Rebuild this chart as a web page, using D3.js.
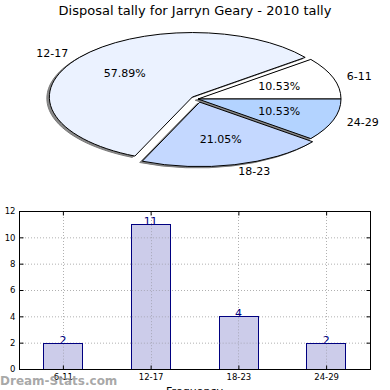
<!DOCTYPE html>
<html>
<head>
<meta charset="utf-8">
<script src="https://cdn.jsdelivr.net/npm/d3@7"></script>
<style>
  body { margin: 0; background: #fff; }
  svg { font-family: "DejaVu Sans", sans-serif; }
</style>
</head>
<body>
<div id="chart"></div>
<script>
// data
var categories = ["6-11", "12-17", "18-23", "24-29"];
var tally = [2, 11, 4, 2];
var explode = [0, 0.05, 0.05, 0];
var sliceColors = ["#ffffff", "#ebf2ff", "#c4d8ff", "#b3d3ff"];
var yTicks = [0, 2, 4, 6, 8, 10, 12];

var W = 390, H = 390;
var svg = d3.select("#chart").append("svg")
  .attr("width", W).attr("height", H);

svg.append("text")
  .attr("x", 195).attr("y", 15)
  .attr("text-anchor", "middle")
  .attr("font-size", 13)
  .text("Disposal tally for Jarryn Geary - 2010 tally");

// ---- pie (matplotlib style: starts at east, counter-clockwise, squashed) ----
var cx = 198, cy = 99, rx = 143, ry = 64.5;
var total = d3.sum(tally);
var slices = [];
var acc = 0;
tally.forEach(function(v, i) {
  var a0 = acc / total * 2 * Math.PI;
  acc += v;
  var a1 = acc / total * 2 * Math.PI;
  var mid = (a0 + a1) / 2;
  slices.push({
    i: i, a0: a0, a1: a1, mid: mid,
    ox: cx + explode[i] * rx * Math.cos(mid),
    oy: cy - explode[i] * ry * Math.sin(mid)
  });
});

// unit circle arc, scaled into an ellipse
var arc = d3.arc().innerRadius(0).outerRadius(1)
  .startAngle(function(d) { return Math.PI / 2 - d.a1; })
  .endAngle(function(d) { return Math.PI / 2 - d.a0; });

function wedge(sel, dx, dy) {
  return sel.append("path")
    .attr("transform", function(d) {
      return "translate(" + (d.ox + dx) + "," + (d.oy + dy) + ") scale(" + rx + "," + ry + ")";
    })
    .attr("d", arc)
    .attr("vector-effect", "non-scaling-stroke");
}

var pie = svg.append("g");
wedge(pie.selectAll(".shadow").data(slices).enter(), -2.5, 1.3)
  .attr("class", "shadow")
  .attr("fill", "#8a8a8a")
  .attr("stroke", "#7a7a7a")
  .attr("stroke-width", 1);

wedge(pie.selectAll(".slice").data(slices).enter(), 0, 0)
  .attr("class", "slice")
  .attr("fill", function(d) { return sliceColors[d.i]; })
  .attr("stroke", "#000")
  .attr("stroke-width", 1);

pie.selectAll(".plabel").data(slices).enter().append("text")
  .attr("x", function(d) { return d.ox + 1.1 * rx * Math.cos(d.mid); })
  .attr("y", function(d) { return d.oy - 1.1 * ry * Math.sin(d.mid); })
  .attr("dy", "0.35em")
  .attr("text-anchor", function(d) { return Math.cos(d.mid) < 0 ? "end" : "start"; })
  .attr("font-size", 11)
  .text(function(d) { return categories[d.i]; });

pie.selectAll(".pct").data(slices).enter().append("text")
  .attr("x", function(d) { return d.ox + 0.6 * rx * Math.cos(d.mid); })
  .attr("y", function(d) { return d.oy - 0.6 * ry * Math.sin(d.mid); })
  .attr("dy", "0.35em")
  .attr("text-anchor", "middle")
  .attr("font-size", 11)
  .text(function(d) { return (tally[d.i] / total * 100).toFixed(2) + "%"; });

// ---- bar chart ----
var plotL = 19, plotR = 370, plotT = 211, plotB = 369;
var x = d3.scaleLinear().domain([-0.5, 3.5]).range([plotL, plotR]);
var y = d3.scaleLinear().domain([0, 12]).range([plotB, plotT]);
var barW = 0.45;

var g = svg.append("g");

// grid
g.selectAll(".hgrid").data(yTicks.slice(1, -1)).enter().append("line")
  .attr("x1", plotL).attr("x2", plotR)
  .attr("y1", function(d) { return y(d) + 0.5; })
  .attr("y2", function(d) { return y(d) + 0.5; })
  .attr("stroke", "#b0b0b0").attr("stroke-dasharray", "1,2");
g.selectAll(".vgrid").data(categories).enter().append("line")
  .attr("x1", function(d, i) { return Math.round(x(i)) + 0.5; })
  .attr("x2", function(d, i) { return Math.round(x(i)) + 0.5; })
  .attr("y1", plotT).attr("y2", plotB)
  .attr("stroke", "#b0b0b0").attr("stroke-dasharray", "1,2");

// bars
g.selectAll(".bar").data(tally).enter().append("rect")
  .attr("x", function(d, i) { return Math.round(x(i - barW / 2)) + 0.5; })
  .attr("width", Math.round(x(barW) - x(0)))
  .attr("y", function(d) { return Math.round(y(d)) + 0.5; })
  .attr("height", function(d) { return Math.round(y(0) - y(d)); })
  .attr("fill", "#ccccea")
  .attr("stroke", "#000080")
  .attr("stroke-width", 1);

// grid over the bars (matplotlib draws it on top)
g.selectAll(".vgrid2").data(tally).enter().append("line")
  .attr("x1", function(d, i) { return Math.round(x(i)) + 0.5; })
  .attr("x2", function(d, i) { return Math.round(x(i)) + 0.5; })
  .attr("y1", function(d) { return y(d) + 1; }).attr("y2", plotB)
  .attr("stroke", "#a8a8b8").attr("stroke-dasharray", "1,2");
g.selectAll(".hgrid2").data(tally).enter().append("g")
  .each(function(v, i) {
    d3.select(this).selectAll("line")
      .data(yTicks.filter(function(t) { return t > 0 && t < v; }))
      .enter().append("line")
      .attr("x1", x(i - barW / 2) + 1).attr("x2", x(i + barW / 2))
      .attr("y1", function(t) { return y(t) + 0.5; })
      .attr("y2", function(t) { return y(t) + 0.5; })
      .attr("stroke", "#a8a8b8").attr("stroke-dasharray", "1,2");
  });

g.selectAll(".val").data(tally).enter().append("text")
  .attr("x", function(d, i) { return x(i); })
  .attr("y", function(d) { return y(d) + 1; })
  .attr("text-anchor", "middle")
  .attr("font-size", 11)
  .attr("fill", "#000080")
  .text(function(d) { return d; });

// frame
g.append("rect")
  .attr("x", plotL + 0.5).attr("y", plotT + 0.5)
  .attr("width", plotR - plotL).attr("height", plotB - plotT)
  .attr("fill", "none").attr("stroke", "#000").attr("stroke-width", 1);

// axes with inward ticks
var yAxis = g.append("g").attr("transform", "translate(" + (plotL + 0.5) + ",0)")
  .call(d3.axisLeft(y).tickValues(yTicks).tickSize(-4).tickPadding(4));
var yAxisR = g.append("g").attr("transform", "translate(" + (plotR + 0.5) + ",0)")
  .call(d3.axisRight(y).tickValues(yTicks).tickSize(-4).tickFormat(""));
var xAxis = g.append("g").attr("transform", "translate(0," + (plotB + 0.5) + ")")
  .call(d3.axisBottom(x).tickValues([0, 1, 2, 3]).tickSize(-4).tickPadding(4)
    .tickFormat(function(d) { return categories[d]; }));
var xAxisT = g.append("g").attr("transform", "translate(0," + (plotT + 0.5) + ")")
  .call(d3.axisTop(x).tickValues([0, 1, 2, 3]).tickSize(-4).tickFormat(""));
[yAxis, yAxisR, xAxis, xAxisT].forEach(function(a) {
  a.select(".domain").remove();
  a.selectAll("text").attr("font-size", 8.5).attr("font-family", "DejaVu Sans").attr("fill", "#000");
  a.selectAll("line").attr("stroke", "#000");
});

svg.append("text")
  .attr("transform", "translate(-3," + ((plotT + plotB) / 2) + ") rotate(-90)")
  .attr("text-anchor", "middle")
  .attr("font-size", 11)
  .text("Disposal Tally");

svg.append("text")
  .attr("x", (plotL + plotR) / 2).attr("y", 395)
  .attr("text-anchor", "middle")
  .attr("font-size", 11)
  .text("Frequency");

svg.append("text")
  .attr("x", 0).attr("y", 385)
  .attr("font-size", 12)
  .attr("font-weight", "bold")
  .attr("fill", "#999")
  .attr("fill-opacity", 0.85)
  .text("Dream-Stats.com");
</script>
</body>
</html>
